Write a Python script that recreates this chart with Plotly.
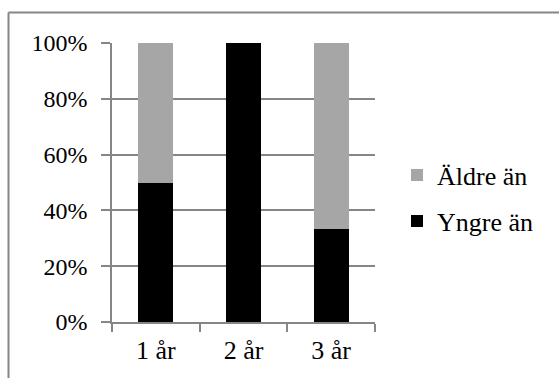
import plotly.graph_objects as go

categories = ["1 år", "2 år", "3 år"]
yngre = [50, 100, 33.3]
aldre = [50, 0, 66.7]
y_ticks = [0, 20, 40, 60, 80, 100]

FONT = "Liberation Serif"
GRID = "#868686"

W, H = 559, 378
L, R, T, B = 112, 184, 43, 56
pw, ph = W - L - R, H - T - B


def px_x(x):
    return (x - L) / pw


def px_y(y):
    return (H - B - y) / ph


fig = go.Figure()
fig.add_trace(go.Bar(x=categories, y=yngre, name="Yngre än",
                     marker=dict(color="#000000", line=dict(width=0)),
                     legend="legend2", showlegend=True))
fig.add_trace(go.Bar(x=categories, y=aldre, name="Äldre än",
                     marker=dict(color="#A6A6A6", line=dict(width=0)),
                     legend="legend", showlegend=True))

legend_style = dict(xanchor="left", yanchor="middle", bgcolor="rgba(0,0,0,0)",
                    itemwidth=30, font=dict(family=FONT, size=26))

fig.update_layout(
    width=W, height=H,
    margin=dict(l=L, r=R, t=T, b=B, autoexpand=False),
    barmode="stack",
    bargap=0.6,
    showlegend=True,
    plot_bgcolor="white",
    paper_bgcolor="white",
    font=dict(family=FONT, size=24, color="#000000"),
    legend=dict(x=px_x(397), y=px_y(175), **legend_style),
    legend2=dict(x=px_x(397), y=px_y(221), **legend_style),
    xaxis=dict(showline=True, linecolor=GRID, linewidth=1.5,
               ticks="outside", tickson="boundaries", ticklen=8,
               tickcolor=GRID, tickwidth=1.5, showgrid=False,
               ticklabelstandoff=4,
               tickfont=dict(family=FONT, size=26)),
    yaxis=dict(range=[0, 100], tickvals=y_ticks,
               ticktext=[f"{v}%" for v in y_ticks],
               showline=True, linecolor=GRID, linewidth=1.5,
               ticks="outside", ticklen=9, tickcolor=GRID, tickwidth=1.5,
               showgrid=True, gridcolor=GRID, gridwidth=1.5,
               zeroline=False, ticklabelstandoff=9,
               tickfont=dict(family=FONT, size=24)),
    shapes=[
        dict(type="line", xref="paper", yref="paper",
             x0=px_x(8.5), x1=px_x(560), y0=px_y(12.5), y1=px_y(12.5),
             line=dict(color=GRID, width=2)),
        dict(type="line", xref="paper", yref="paper",
             x0=px_x(8.5), x1=px_x(8.5), y0=px_y(12.5), y1=px_y(380),
             line=dict(color=GRID, width=2)),
    ],
)

fig.write_html("out.html")
